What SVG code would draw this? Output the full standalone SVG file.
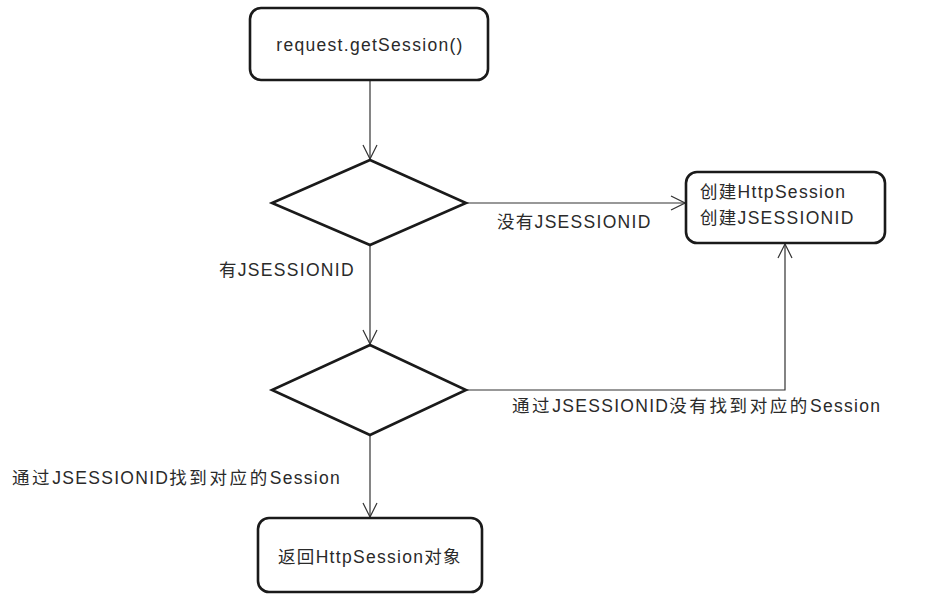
<svg xmlns="http://www.w3.org/2000/svg" width="925" height="602" viewBox="0 0 925 602">
<defs>
<style>
.box{fill:#fff;stroke:#1a1a1a;stroke-width:2.6}
.dia{fill:#fff;stroke:#1a1a1a;stroke-width:2.6}
.ln{fill:none;stroke:#333;stroke-width:1.2}
.t{font-family:"Liberation Sans","Noto Sans CJK SC",sans-serif;font-size:17.5px;fill:#2a2a2a;letter-spacing:1.3px}
.c{letter-spacing:2.6px}
</style>
<marker id="arr" viewBox="0 0 16 16" refX="15" refY="8" markerWidth="16" markerHeight="16" markerUnits="userSpaceOnUse" orient="auto">
<path d="M1,1 L15,8 L1,15" fill="none" stroke="#333" stroke-width="1.2"/>
</marker>
</defs>
<rect width="925" height="602" fill="#fff"/>
<g id="connectors">
<line class="ln" x1="370" y1="80" x2="370" y2="159" marker-end="url(#arr)"/>
<line class="ln" x1="466" y1="203" x2="685" y2="203" marker-end="url(#arr)"/>
<line class="ln" x1="370" y1="246" x2="370" y2="344" marker-end="url(#arr)"/>
<polyline class="ln" points="466,390 785,390 785,244" marker-end="url(#arr)"/>
<line class="ln" x1="370" y1="435" x2="370" y2="517" marker-end="url(#arr)"/>
<text class="t" x="497" y="228">没有JSESSIONID</text>
<text class="t" x="219" y="276">有JSESSIONID</text>
<text class="t" x="512" y="412"><tspan class="c">通过</tspan>JSESSIONID<tspan class="c">没有找到对应的</tspan>Session</text>
<text class="t" x="12" y="484"><tspan class="c">通过</tspan>JSESSIONID<tspan class="c">找到对应的</tspan>Session</text>
</g>
<g id="start">
<rect class="box" x="250" y="8" width="238" height="72" rx="11"/>
<text class="t" x="370" y="51" text-anchor="middle">request.getSession()</text>
</g>
<g id="decision1">
<polygon class="dia" points="370,160 466,203 370,245 272,203"/>
</g>
<g id="create">
<rect class="box" x="686" y="172" width="199" height="71" rx="11"/>
<text class="t" x="700" y="198">创建HttpSession</text>
<text class="t" x="700" y="224">创建JSESSIONID</text>
</g>
<g id="decision2">
<polygon class="dia" points="370,345 466,390 370,435 272,390"/>
</g>
<g id="return">
<rect class="box" x="258" y="518" width="224" height="74" rx="11"/>
<text class="t" x="370" y="563" text-anchor="middle">返回HttpSession对象</text>
</g>
</svg>
